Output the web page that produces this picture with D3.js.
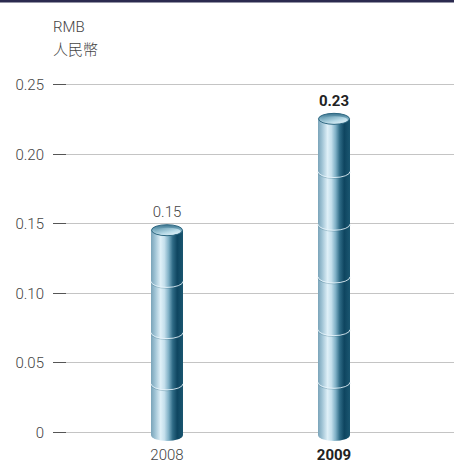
<!DOCTYPE html>
<html>
<head>
<meta charset="utf-8">
<script src="https://cdn.jsdelivr.net/npm/d3@7"></script>
<style>
  html, body { margin: 0; padding: 0; background: #fff; }
  svg { display: block; }
</style>
</head>
<body>
<script>
const years = ["2008", "2009"];
const values = [0.15, 0.23];
const valueLabels = ["0.15", "0.23"];
const segments = [4, 6];
const highlight = [false, true];
const yTicks = [0, 0.05, 0.10, 0.15, 0.20, 0.25];
const yTickLabels = ["0", "0.05", "0.10", "0.15", "0.20", "0.25"];
const unitLines = ["RMB", "人民幣"];

const W = 454, H = 464;
const svg = d3.select("body").append("svg").attr("width", W).attr("height", H);
const font = "Roboto, 'Noto Sans CJK TC', sans-serif";

// top band
svg.append("rect").attr("x", 0).attr("y", 0).attr("width", W).attr("height", 2.5).attr("fill", "#2b2a4f");

const y = d3.scaleLinear().domain([0, 0.25]).range([432, 84]);
const x = d3.scalePoint().domain(years).range([83.5, 417.5]).padding(0.5);

// defs
const defs = svg.append("defs");
const body = defs.append("linearGradient").attr("id", "body").attr("x1", 0).attr("x2", 1).attr("y1", 0).attr("y2", 0);
[[0, "#7aa4b9"], [0.12, "#9cc1d3"], [0.3, "#dff0f8"], [0.42, "#c4dfec"], [0.55, "#7fb0c6"], [0.68, "#2f6b86"], [0.82, "#0e4560"], [1, "#1a5670"]]
  .forEach(([o, c]) => body.append("stop").attr("offset", o).attr("stop-color", c));
const topG = defs.append("linearGradient").attr("id", "top").attr("x1", 0).attr("x2", 0).attr("y1", 0).attr("y2", 1);
[[0, "#3d7690"], [0.5, "#7fb0c4"], [1, "#d9edf5"]]
  .forEach(([o, c]) => topG.append("stop").attr("offset", o).attr("stop-color", c));
const topIn = defs.append("linearGradient").attr("id", "topin").attr("x1", 0).attr("x2", 1).attr("y1", 0).attr("y2", 1);
[[0, "#5f97ad"], [0.6, "#b9dbe8"], [1, "#eaf6fb"]]
  .forEach(([o, c]) => topIn.append("stop").attr("offset", o).attr("stop-color", c));

// unit label
svg.append("text").attr("x", 53).attr("y", 32).attr("font-family", font).attr("font-weight", 300)
  .attr("font-size", 15).attr("fill", "#444").text(unitLines[0]);
svg.append("text").attr("x", 53).attr("y", 55).attr("font-family", "'Noto Sans CJK TC', sans-serif").attr("font-weight", 300)
  .attr("font-size", 15).attr("fill", "#444").text(unitLines[1]);

// grid + ticks
const g = svg.append("g");
yTicks.forEach((t, i) => {
  const yy = Math.round(y(t)) + 0.5;
  g.append("line").attr("x1", 66).attr("x2", W).attr("y1", yy).attr("y2", yy).attr("stroke", "#c4c4c4").attr("stroke-width", 1);
  g.append("line").attr("x1", 53).attr("x2", 66).attr("y1", yy).attr("y2", yy).attr("stroke", "#555").attr("stroke-width", 1);
  g.append("text").attr("x", 44).attr("y", yy + 5).attr("text-anchor", "end").attr("font-family", font)
    .attr("font-weight", 300).attr("font-size", 15).attr("fill", "#444").text(yTickLabels[i]);
});

// cylinders
const rx = 16, ry = 6;
years.forEach((yr, i) => {
  const cx = x(yr);
  const topC = y(values[i]) + ry + 1;
  const botC = y(0) + 3;
  const cg = svg.append("g");
  cg.append("ellipse").attr("cx", cx).attr("cy", botC).attr("rx", rx).attr("ry", ry).attr("fill", "url(#body)");
  cg.append("rect").attr("x", cx - rx).attr("y", topC).attr("width", 2 * rx).attr("height", botC - topC).attr("fill", "url(#body)");
  // segment arcs
  const n = segments[i];
  for (let k = 1; k < n; k++) {
    const sy = botC - (botC - topC) * k / n;
    cg.append("path").attr("d", `M${cx - rx},${sy + 1} A${rx},${ry} 0 0 0 ${cx + rx},${sy + 1}`)
      .attr("fill", "none").attr("stroke", "#1f5a73").attr("stroke-opacity", 0.25).attr("stroke-width", 1);
    cg.append("path").attr("d", `M${cx - rx},${sy} A${rx},${ry} 0 0 0 ${cx + rx},${sy}`)
      .attr("fill", "none").attr("stroke", "#e8f5fb").attr("stroke-opacity", 0.85).attr("stroke-width", 1);
  }
  // top ellipse
  cg.append("ellipse").attr("cx", cx).attr("cy", topC).attr("rx", rx - 0.5).attr("ry", ry - 0.5)
    .attr("fill", "url(#top)").attr("stroke", "#2c6680").attr("stroke-width", 1);
  cg.append("ellipse").attr("cx", cx + 0.5).attr("cy", topC + 1).attr("rx", rx - 3).attr("ry", ry - 2.5)
    .attr("fill", "url(#topin)");

  // value label
  svg.append("text").attr("x", cx).attr("y", y(values[i]) - 6).attr("text-anchor", "middle")
    .attr("font-family", font).attr("font-size", 15)
    .attr("font-weight", highlight[i] ? 700 : 300).attr("fill", highlight[i] ? "#222" : "#444").text(valueLabels[i]);
  // category label
  svg.append("text").attr("x", cx).attr("y", 460).attr("text-anchor", "middle")
    .attr("font-family", font).attr("font-size", 15)
    .attr("font-weight", highlight[i] ? 700 : 300).attr("fill", highlight[i] ? "#222" : "#444").text(yr);
});
</script>
</body>
</html>
